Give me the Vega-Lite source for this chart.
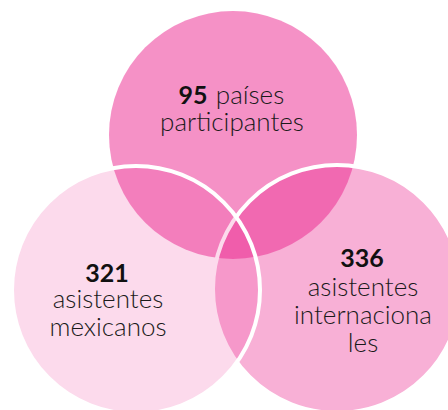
{
  "$schema": "https://vega.github.io/schema/vega-lite/v6.json",
  "width": 448,
  "height": 410,
  "autosize": {"type": "none"},
  "padding": 0,
  "background": "white",
  "view": {"stroke": null},
  "datasets": {
    "circles": [
      {"set": "países", "cx": 233, "cy": 135},
      {"set": "internacionales", "cx": 337, "cy": 289},
      {"set": "mexicanos", "cx": 136, "cy": 290}
    ],
    "bold": [
      {"label": "95", "tx": 193, "ty": 104},
      {"label": "321", "tx": 107, "ty": 282},
      {"label": "336", "tx": 362, "ty": 267}
    ],
    "regular": [
      {"label": "países", "tx": 250, "ty": 104},
      {"label": "participantes", "tx": 232, "ty": 131},
      {"label": "asistentes\nmexicanos", "tx": 108, "ty": 308},
      {"label": "asistentes\ninternaciona\nles", "tx": 363, "ty": 296}
    ]
  },
  "encoding": {
    "x": {"field": "cx", "type": "quantitative", "scale": {"domain": [0, 448]}, "axis": null},
    "y": {"field": "cy", "type": "quantitative", "scale": {"domain": [0, 410], "reverse": true}, "axis": null}
  },
  "layer": [
    {
      "data": {"name": "circles"},
      "transform": [{"filter": "datum.set === 'países'"}],
      "mark": {"type": "point", "shape": "circle", "filled": true, "size": 61504, "color": "#EC248D", "opacity": 1, "fillOpacity": 0.5, "strokeWidth": 0}
    },
    {
      "data": {"name": "circles"},
      "transform": [{"filter": "datum.set === 'internacionales'"}],
      "mark": {"type": "point", "shape": "circle", "filled": true, "size": 61504, "color": "#EC248D", "opacity": 1, "fillOpacity": 0.36, "stroke": "white", "strokeOpacity": 1, "strokeWidth": 4}
    },
    {
      "data": {"name": "circles"},
      "transform": [{"filter": "datum.set === 'mexicanos'"}],
      "mark": {"type": "point", "shape": "circle", "filled": true, "size": 61504, "color": "#EC248D", "opacity": 1, "fillOpacity": 0.17, "stroke": "white", "strokeOpacity": 1, "strokeWidth": 4}
    },
    {
      "data": {"name": "bold"},
      "mark": {"type": "text", "font": "Lato", "fontWeight": "bold", "fontSize": 25, "align": "center", "baseline": "alphabetic", "color": "#111111"},
      "encoding": {
        "x": {"field": "tx", "type": "quantitative", "scale": {"domain": [0, 448]}, "axis": null},
        "y": {"field": "ty", "type": "quantitative", "scale": {"domain": [0, 410], "reverse": true}, "axis": null},
        "text": {"field": "label"}
      }
    },
    {
      "data": {"name": "regular"},
      "mark": {"type": "text", "font": "Lato", "fontWeight": 300, "fontSize": 26, "lineHeight": 28, "lineBreak": "\n", "align": "center", "baseline": "alphabetic", "color": "#1a1a1a"},
      "encoding": {
        "x": {"field": "tx", "type": "quantitative", "scale": {"domain": [0, 448]}, "axis": null},
        "y": {"field": "ty", "type": "quantitative", "scale": {"domain": [0, 410], "reverse": true}, "axis": null},
        "text": {"field": "label"}
      }
    }
  ]
}
